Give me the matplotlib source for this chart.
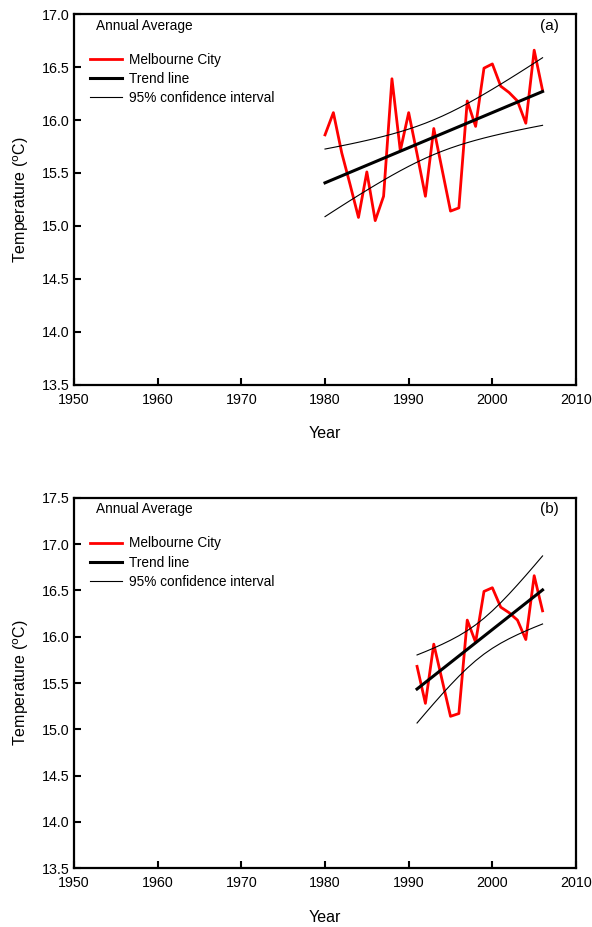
import numpy as np
import matplotlib
matplotlib.use("Agg")
import matplotlib.pyplot as plt

plt.rcParams['font.family'] = ['Liberation Sans', 'DejaVu Sans']

# annual average temperature, Melbourne City
years = np.arange(1980, 2007)
temps = [15.86, 16.07, 15.69, 15.39, 15.08, 15.51, 15.05, 15.28, 16.39, 15.71,
         16.07, 15.68, 15.28, 15.92, 15.53, 15.14, 15.17, 16.18, 15.94, 16.49,
         16.53, 16.32, 16.26, 16.18, 15.97, 16.66, 16.28]
temps = np.array(temps)

panels = [
    # label, first year used, y limits, y ticks
    ('(a)', 1980, (13.5, 17.0), np.arange(13.5, 17.01, 0.5)),
    ('(b)', 1991, (13.5, 17.5), np.arange(13.5, 17.51, 0.5)),
]
t_crit = {27: 2.060, 16: 2.145}


def trend_ci(x, y):
    n = len(x)
    b, a = np.polyfit(x, y, 1)
    fit = a + b * x
    s = np.sqrt(np.sum((y - fit) ** 2) / (n - 2))
    sxx = np.sum((x - x.mean()) ** 2)
    half = t_crit[n] * s * np.sqrt(1.0 / n + (x - x.mean()) ** 2 / sxx)
    return fit, fit - half, fit + half


fig = plt.figure(figsize=(5.92, 9.27), dpi=100)
boxes = [[0.125, 0.585, 0.848, 0.3997], [0.125, 0.0636, 0.848, 0.3992]]

for (label, start, ylim, yticks), box in zip(panels, boxes):
    ax = fig.add_axes(box)
    m = years >= start
    x, y = years[m], temps[m]
    fit, lo, hi = trend_ci(x.astype(float), y)

    ax.plot(x, y, color='#ff0000', lw=2.0, label='Melbourne City')
    ax.plot(x, fit, color='black', lw=2.2, label='Trend line')
    ax.plot(x, hi, color='black', lw=0.8, label='95% confidence interval')
    ax.plot(x, lo, color='black', lw=0.8)

    ax.set_xlim(1950, 2010)
    ax.set_ylim(*ylim)
    ax.set_xticks(np.arange(1950, 2011, 10))
    ax.set_yticks(yticks)
    ax.set_yticklabels(['%.1f' % v for v in yticks])
    ax.tick_params(direction='in', length=5, width=1.5, labelsize=10.3,
                   top=False, right=False)
    ax.tick_params(axis='x', pad=6)
    ax.tick_params(axis='y', pad=3)
    for sp in ax.spines.values():
        sp.set_linewidth(1.6)

    ax.set_xlabel('Year', fontsize=11.5, labelpad=14)
    ax.set_ylabel('Temperature ($^{\\rm o}$C)', fontsize=11.5, labelpad=8)

    ax.text(0.044, 0.988, 'Annual Average', transform=ax.transAxes,
            fontsize=9.8, va='top', ha='left')
    ax.text(0.965, 0.988, label, transform=ax.transAxes,
            fontsize=11, va='top', ha='right')
    ax.legend(loc='upper left', bbox_to_anchor=(0.022, 0.911), frameon=False,
              fontsize=9.8, handlelength=2.35, handletextpad=0.5,
              labelspacing=0.38, borderaxespad=0)

fig.savefig('out.png', dpi=100)
